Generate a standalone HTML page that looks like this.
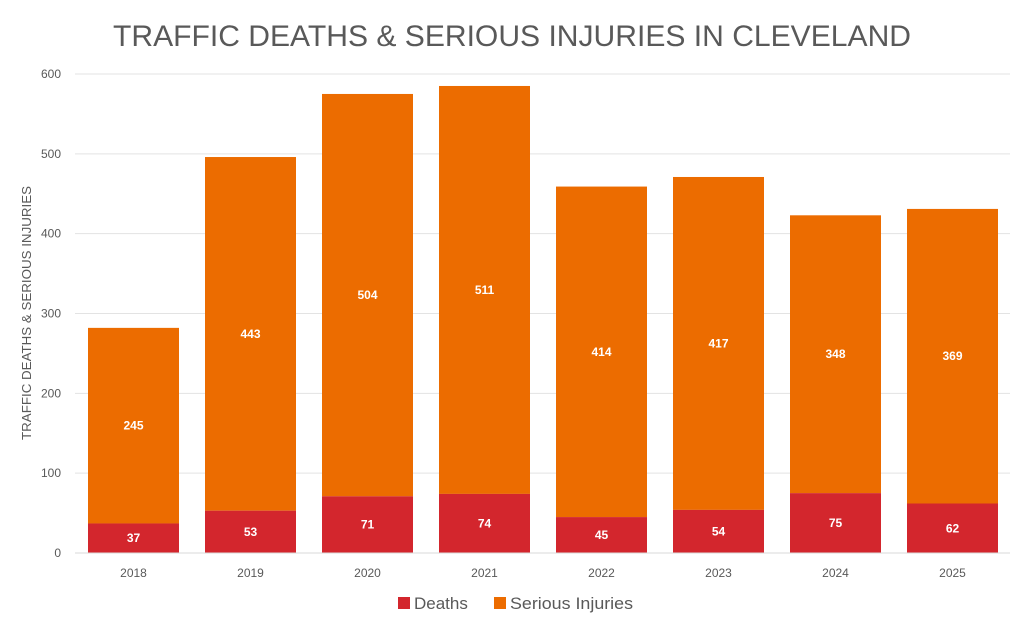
<!DOCTYPE html>
<html><head><meta charset="utf-8"><style>
body{margin:0;background:#fff;width:1024px;height:626px;overflow:hidden;font-family:"Liberation Sans",sans-serif}
</style></head><body>
<svg id="c" width="1024" height="626" xmlns="http://www.w3.org/2000/svg" font-family="Liberation Sans, sans-serif">
<text x="512" y="46" text-anchor="middle" font-size="30" fill="#595959" textLength="798" lengthAdjust="spacingAndGlyphs">TRAFFIC DEATHS &amp; SERIOUS INJURIES IN CLEVELAND</text>
<text transform="translate(31,313) rotate(-90)" text-anchor="middle" font-size="13" fill="#595959" textLength="254" lengthAdjust="spacingAndGlyphs">TRAFFIC DEATHS &amp; SERIOUS INJURIES</text>
<g id="g"></g>
<rect x="398" y="597" width="12" height="12" fill="#D3262D"/>
<text x="414" y="609" font-size="17" fill="#595959">Deaths</text>
<rect x="494" y="597" width="12" height="12" fill="#EC6C00"/>
<text x="510" y="609" font-size="17" fill="#595959" textLength="123" lengthAdjust="spacingAndGlyphs">Serious Injuries</text>
</svg>
<script>
var g=document.getElementById('g'),k=479/600,b=553,s='';
for(var v=0;v<=600;v+=100){var y=b-v*k;s+='<line x1="75" x2="1010" y1="'+y+'" y2="'+y+'" stroke="#e3e3e3" stroke-width="1"/>';s+='<text x="61" y="'+(y+4)+'" text-anchor="end" font-size="12" fill="#595959">'+v+'</text>';}
var d=[[2018,37,245],[2019,53,443],[2020,71,504],[2021,74,511],[2022,45,414],[2023,54,417],[2024,75,348],[2025,62,369]];
d.forEach(function(r,i){var x=88+i*117,w=91,hd=r[1]*k,hs=r[2]*k;
s+='<rect x="'+x+'" y="'+(b-hd-hs)+'" width="'+w+'" height="'+hs+'" fill="#EC6C00"/>';
s+='<rect x="'+x+'" y="'+(b-hd)+'" width="'+w+'" height="'+hd+'" fill="#D3262D"/>';
s+='<text x="'+(x+w/2)+'" y="'+(b-hd/2+4)+'" text-anchor="middle" font-size="12" font-weight="bold" fill="#fff">'+r[1]+'</text>';
s+='<text x="'+(x+w/2)+'" y="'+(b-hd-hs/2+4)+'" text-anchor="middle" font-size="12" font-weight="bold" fill="#fff">'+r[2]+'</text>';
s+='<text x="'+(x+w/2)+'" y="577" text-anchor="middle" font-size="12" fill="#595959">'+r[0]+'</text>';});
s+='<line x1="75" x2="1010" y1="553" y2="553" stroke="#d9d9d9"/>';
g.innerHTML=s;
</script>
</body></html>
